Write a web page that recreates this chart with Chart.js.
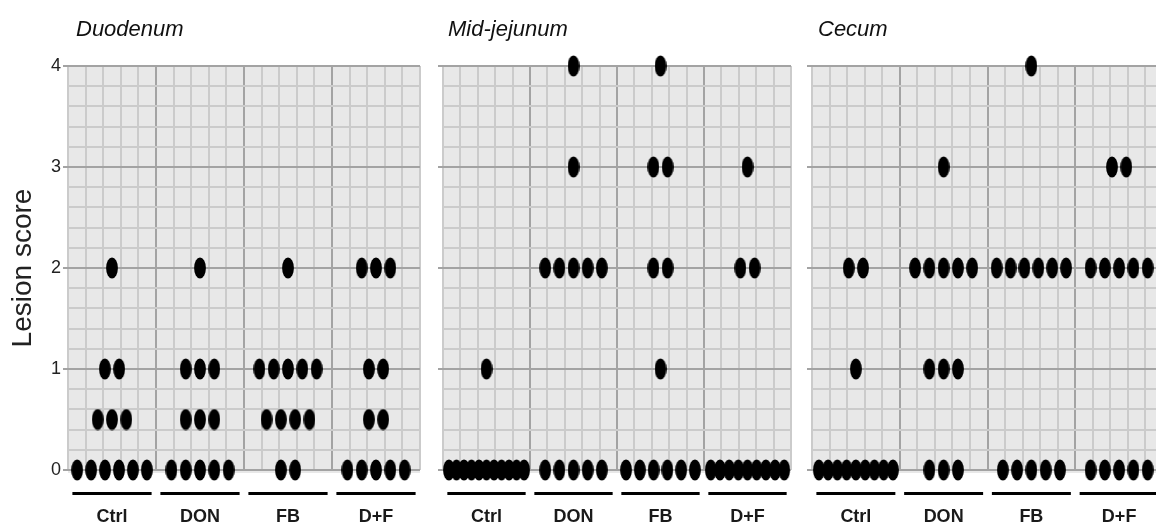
<!DOCTYPE html>
<html>
<head>
<meta charset="utf-8">
<title>Lesion score</title>
<script src="https://cdn.jsdelivr.net/npm/chart.js@4.4.1/dist/chart.umd.min.js"></script>
<style>
    html, body { margin: 0; padding: 0; background: #fff; overflow: hidden; }
    #wrap { position: relative; width: 1156px; height: 525px; overflow: hidden; }
    canvas { position: absolute; top: 0; }
</style>
</head>
<body>
<div id="wrap">
    <canvas id="duodenum" width="432" height="525" style="left:0px"></canvas>
    <canvas id="jejunum" width="368" height="525" style="left:432px"></canvas>
    <canvas id="cecum" width="370" height="525" style="left:800px"></canvas>
</div>
<script>
// Groupes et scores individuels (12 animaux par groupe)
const groups = ['Ctrl', 'DON', 'FB', 'D+F'];
const yTicks = [0, 1, 2, 3, 4];

const duodenumScores = [
    [0, 0, 0, 0, 0, 0, 0.5, 0.5, 0.5, 1, 1, 2],
    [0, 0, 0, 0, 0, 0.5, 0.5, 0.5, 1, 1, 1, 2],
    [0, 0, 0.5, 0.5, 0.5, 0.5, 1, 1, 1, 1, 1, 2],
    [0, 0, 0, 0, 0, 0.5, 0.5, 1, 1, 2, 2, 2]
];
const jejunumScores = [
    [0, 0, 0, 0, 0, 0, 0, 0, 0, 0, 0, 1],
    [0, 0, 0, 0, 0, 2, 2, 2, 2, 2, 3, 4],
    [0, 0, 0, 0, 0, 0, 1, 2, 2, 3, 3, 4],
    [0, 0, 0, 0, 0, 0, 0, 0, 0, 2, 2, 3]
];
const cecumScores = [
    [0, 0, 0, 0, 0, 0, 0, 0, 0, 1, 2, 2],
    [0, 0, 0, 1, 1, 1, 2, 2, 2, 2, 2, 3],
    [0, 0, 0, 0, 0, 2, 2, 2, 2, 2, 2, 4],
    [0, 0, 0, 0, 0, 2, 2, 2, 2, 2, 3, 3]
];

const FONT = "'Liberation Sans', Arial, sans-serif";
const BG = '#e8e8e8';
const MINOR = '#cbcbcb';
const MAJOR = '#a3a3a3';

// Point ellipse noir
function makeDot() {
    const c = document.createElement('canvas');
    c.width = 12;
    c.height = 22;
    const ctx = c.getContext('2d');
    ctx.fillStyle = '#000';
    ctx.beginPath();
    ctx.ellipse(6, 11, 5.9, 10.6, 0, 0, Math.PI * 2);
    ctx.fill();
    return c;
}
const dot = makeDot();

// Empilement horizontal des points de même score, centré sur le groupe
function stackDots(scores) {
    const points = [];
    scores.forEach((list, i) => {
        const counts = new Map();
        list.forEach(v => counts.set(v, (counts.get(v) || 0) + 1));
        counts.forEach((n, value) => {
            const step = Math.min(0.1625, 0.95 / n);
            for (let k = 0; k < n; k++) {
                points.push({ x: i + 0.5 + (k - (n - 1) / 2) * step, y: value });
            }
        });
    });
    return points;
}

const isMajor = v => Math.abs(v - Math.round(v)) < 1e-6;

const panelPlugin = {
    id: 'panel',
    beforeDraw(chart) {
        const a = chart.chartArea;
        const ctx = chart.ctx;
        ctx.save();
        ctx.fillStyle = BG;
        ctx.fillRect(a.left, a.top, a.right - a.left, a.bottom - a.top + 3);
        ctx.restore();
    },
    afterDraw(chart, args, opts) {
        const a = chart.chartArea;
        const x = chart.scales.x;
        const ctx = chart.ctx;
        ctx.save();
        // titre du segment
        ctx.fillStyle = '#111';
        ctx.font = 'italic 22px ' + FONT;
        ctx.textBaseline = 'alphabetic';
        ctx.fillText(opts.text, a.left + opts.titleOffset, 36);
        // traits sous chaque groupe
        ctx.strokeStyle = '#000';
        ctx.lineWidth = 3;
        groups.forEach((g, i) => {
            ctx.beginPath();
            ctx.moveTo(x.getPixelForValue(i + 0.05), a.bottom + 23.5);
            ctx.lineTo(x.getPixelForValue(i + 0.95), a.bottom + 23.5);
            ctx.stroke();
        });
        ctx.restore();
    }
};

function makePanel(id, title, scores, opts) {
    return new Chart(document.getElementById(id), {
        type: 'scatter',
        data: {
            datasets: [{
                data: stackDots(scores),
                pointStyle: dot,
                pointRadius: 6,
                pointHoverRadius: 6,
                clip: false
            }]
        },
        options: {
            responsive: false,
            animation: false,
            layout: { padding: { left: 0, right: opts.padRight, top: 66, bottom: 0 } },
            plugins: {
                legend: { display: false },
                tooltip: { enabled: false },
                panel: { text: title, titleOffset: opts.titleOffset }
            },
            scales: {
                x: {
                    type: 'linear',
                    min: 0,
                    max: groups.length,
                    border: { display: false },
                    ticks: { display: false, stepSize: 0.2, autoSkip: false },
                    grid: {
                        drawTicks: false,
                        color: c => {
                            const v = c.tick.value;
                            if (v <= 1e-6 || v >= groups.length - 1e-6) return MINOR;
                            return isMajor(v) ? MAJOR : MINOR;
                        },
                        lineWidth: 2
                    },
                    afterFit: s => { s.height = 0; s.paddingLeft = 0; s.paddingRight = 0; }
                },
                x2: {
                    type: 'linear',
                    position: 'bottom',
                    min: 0,
                    max: groups.length,
                    border: { display: false },
                    grid: { display: false, drawTicks: false },
                    afterBuildTicks: s => { s.ticks = groups.map((g, i) => ({ value: i + 0.5 })); },
                    ticks: {
                        autoSkip: false,
                        maxRotation: 0,
                        padding: 36,
                        color: '#1a1a1a',
                        font: { family: FONT, size: 18, weight: 'bold' },
                        callback: (v, i) => groups[i]
                    },
                    afterFit: s => { s.height = 55; s.paddingLeft = 0; s.paddingRight = 0; }
                },
                y: {
                    min: 0,
                    max: 4,
                    border: { display: false },
                    title: {
                        display: opts.showY,
                        text: 'Lesion score',
                        color: '#222',
                        font: { family: FONT, size: 28 },
                        padding: { top: 6, bottom: 0 }
                    },
                    ticks: {
                        display: opts.showY,
                        stepSize: 0.2,
                        autoSkip: false,
                        padding: 2,
                        color: '#222',
                        font: { family: FONT, size: 18 },
                        callback: v => isMajor(v) && yTicks.includes(Math.round(v)) ? String(Math.round(v)) : ''
                    },
                    grid: {
                        tickLength: 5,
                        color: c => isMajor(c.tick.value) ? MAJOR : MINOR,
                        tickColor: c => isMajor(c.tick.value) ? MAJOR : 'rgba(0,0,0,0)',
                        lineWidth: 2
                    },
                    afterFit: s => { s.width = opts.axisWidth; s.paddingTop = 0; s.paddingBottom = 0; }
                }
            }
        },
        plugins: [panelPlugin]
    });
}

makePanel('duodenum', 'Duodenum', duodenumScores, { axisWidth: 68, padRight: 12, showY: true, titleOffset: 8 });
makePanel('jejunum', 'Mid-jejunum', jejunumScores, { axisWidth: 11, padRight: 9, showY: false, titleOffset: 5 });
makePanel('cecum', 'Cecum', cecumScores, { axisWidth: 12, padRight: 5, showY: false, titleOffset: 6 });
</script>
</body>
</html>
